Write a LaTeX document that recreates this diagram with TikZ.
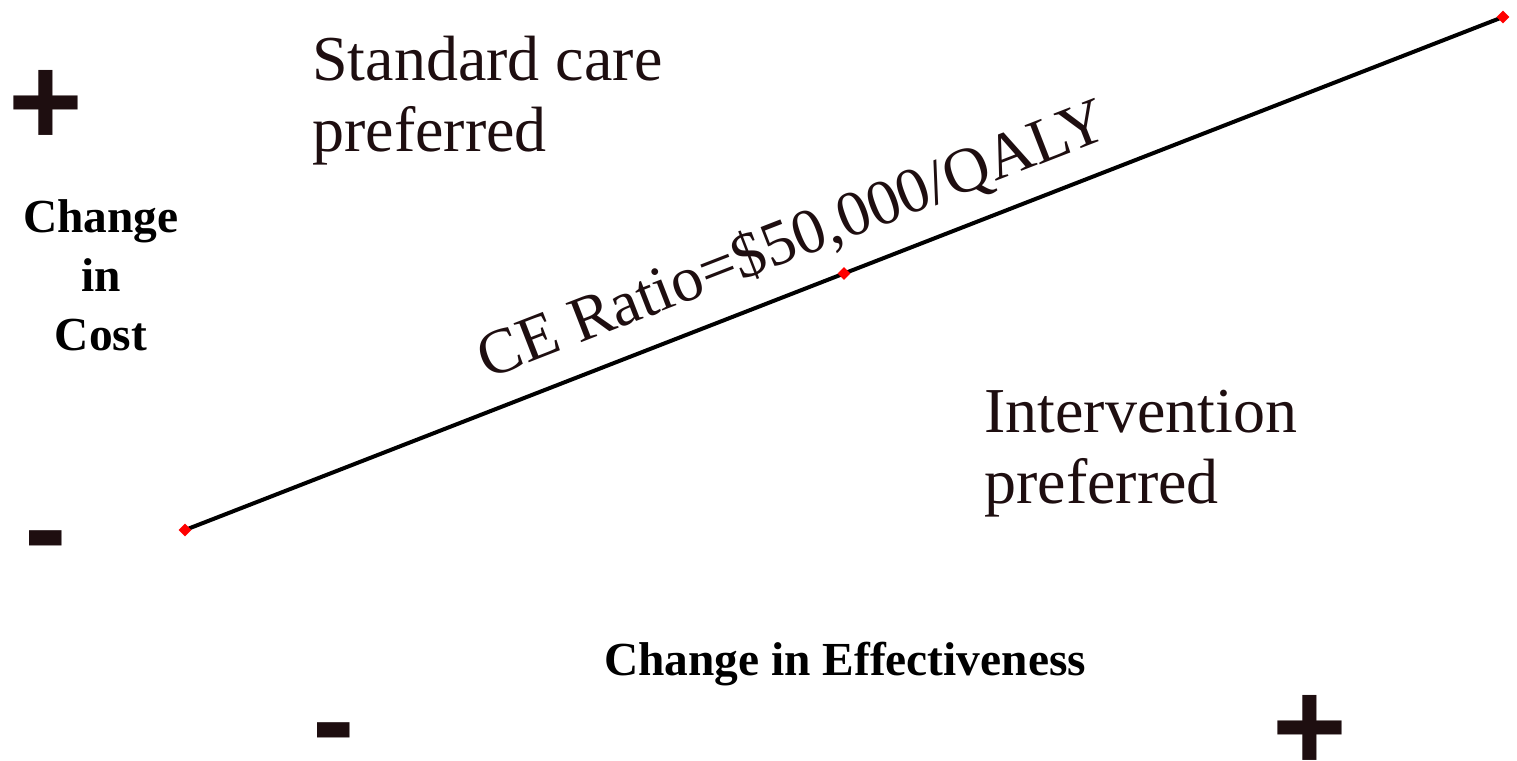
\documentclass[tikz,border=0pt]{standalone}
\usepackage{fontspec}
\setmainfont{Liberation Serif}
\newfontfamily\signfont{Liberation Sans}
\usetikzlibrary{shapes.geometric,calc}
\definecolor{ink}{RGB}{30,14,16}
\begin{document}
\begin{tikzpicture}[x=0.5pt,y=-0.5pt,
  bigtxt/.style={font=\fontsize{32}{35.5}\selectfont, text=ink, inner sep=0, align=left},
  axistxt/.style={font=\fontsize{23.7}{29.5}\selectfont\bfseries, text=black, inner sep=0, align=center},
  sign/.style={font=\signfont\bfseries\fontsize{64}{64}\selectfont, text=ink, inner sep=0},
  marker/.style={diamond, fill=red, inner sep=0, minimum size=6.5pt}]
\useasboundingbox (0,0) rectangle (1517,761);
% signs
\node[sign, anchor=base] (costplus) at (46,145) {+};
\node[sign, anchor=base] (costminus) at (46,571) {-};
\node[sign, anchor=base] (effminus) at (334,763) {-};
\node[sign, anchor=base] (effplus) at (1310,770) {+};
% axis labels (base = baseline of last line)
\node[axistxt, anchor=base] (costlbl) at (101,350) {Change\\in\\Cost};
\node[axistxt, anchor=base] (efflbl) at (845,675) {Change in Effectiveness};
% region labels
\node[bigtxt, anchor=base west] (std) at (312,151) {Standard care\\preferred};
\node[bigtxt, anchor=base west] (intv) at (984,503) {Intervention\\preferred};
% CE line
\coordinate (lo) at (185,530);
\coordinate (hi) at (1503,17);
\draw[line width=2pt, black] (lo) -- (hi);
\node[marker] (mlo) at (lo) {};
\node[marker] (mhi) at (hi) {};
\node[marker] (mmid) at ($(lo)!0.5!(hi)$) {};
\node[bigtxt, anchor=base, rotate=21.27] (ratio) at (800,258) {CE Ratio=\$50,000/QALY};
\end{tikzpicture}
\end{document}
